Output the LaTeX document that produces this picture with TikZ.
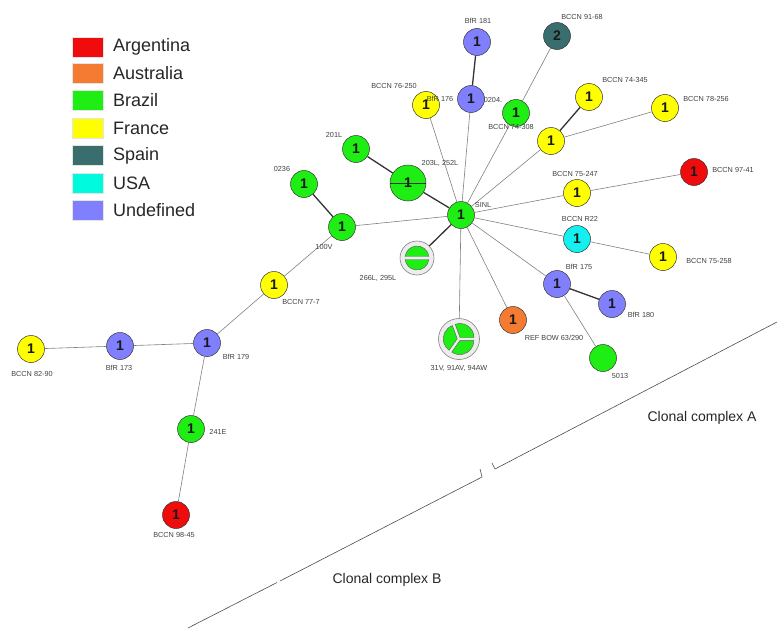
\documentclass[tikz,border=0pt]{standalone}
\usepackage{fontspec}
\setmainfont{Liberation Sans}
\definecolor{cred}{RGB}{240,12,12}
\definecolor{corange}{RGB}{245,122,50}
\definecolor{cgreen}{RGB}{30,238,20}
\definecolor{cyellow}{RGB}{255,255,0}
\definecolor{cspain}{RGB}{58,110,110}
\definecolor{cusa}{RGB}{0,250,222}
\definecolor{cusanode}{RGB}{20,240,240}
\definecolor{cundef}{RGB}{128,128,255}
\begin{document}
\begin{tikzpicture}[x=1pt,y=-1pt,
 st/.style={circle,draw=black!80,line width=0.5pt,minimum size=27pt,inner sep=0pt,font=\bfseries\fontsize{14}{14}\selectfont,text=black!90},
 lab/.style={font=\fontsize{7.3}{8}\selectfont,text=black!75,inner sep=0pt},
 thinln/.style={draw=black!50,line width=0.6pt},
 thickln/.style={draw=black!80,line width=1.3pt},
 leg/.style={minimum width=31pt,minimum height=20pt,inner sep=0pt,draw=black!10,line width=0.3pt},
 legt/.style={font=\fontsize{18}{18}\selectfont,anchor=west,inner sep=0pt,text=black!85},
 cc/.style={font=\fontsize{14}{14}\selectfont,inner sep=0pt,text=black!85},
 ccln/.style={draw=black!70,line width=0.6pt},
 pieout/.style={circle,draw=black!50,fill=black!7,line width=0.6pt,inner sep=0pt},
 piece/.style={fill=cgreen,draw=black!65,line width=0.4pt},
]
\useasboundingbox (0,0) rectangle (777,629);

% legend
\node[leg,fill=cred] (lr) at (88,47) {};
\node[legt] (lrt) at (113,47) {Argentina};
\node[leg,fill=corange] (lo) at (88,73.5) {};
\node[legt] (lot) at (113,73.5) {Australia};
\node[leg,fill=cgreen] (lg) at (88,100.5) {};
\node[legt] (lgt) at (113,100.5) {Brazil};
\node[leg,fill=cyellow] (ly) at (88,128) {};
\node[legt] (lyt) at (113,128) {France};
\node[leg,fill=cspain] (ls) at (88,155.5) {};
\node[legt] (lst) at (113,155.5) {Spain};
\node[leg,fill=cusa] (lu) at (88,183) {};
\node[legt] (lut) at (113,183) {USA};
\node[leg,fill=cundef] (ln) at (88,210) {};
\node[legt] (lnt) at (113,210) {Undefined};

% nodes
\node[st,fill=cgreen] (sinl) at (461,215) {1};
\node[st,fill=cundef] (b181) at (477,42) {1};
\node[st,fill=cspain] (sp) at (557,36) {2};
\node[st,fill=cundef] (b176) at (471,99) {1};
\node[st,fill=cyellow] (y250) at (426,105) {1};
\node[st,fill=cgreen] (g204) at (516,113) {1};
\node[st,fill=cyellow] (yhub) at (551,141) {1};
\node[st,fill=cyellow] (y345) at (589,97) {1};
\node[st,fill=cyellow] (y256) at (665,108) {1};
\node[st,fill=cgreen] (g201) at (356,149) {1};
\node[circle,draw=black!80,line width=0.5pt,fill=cgreen,minimum size=36pt,inner sep=0pt] (g203) at (408,183) {};
\node[st,fill=cgreen] (g236) at (304,184) {1};
\node[st,fill=cgreen] (g100) at (342,227) {1};
\node[st,fill=cyellow] (y777) at (274,285) {1};
\node[st,fill=cundef] (b179) at (207,343) {1};
\node[st,fill=cundef] (b173) at (120,346) {1};
\node[st,fill=cyellow] (y8290) at (31,349) {1};
\node[st,fill=cgreen] (g241) at (191,429) {1};
\node[st,fill=cred] (r9845) at (176,515) {1};
\node[st,fill=cyellow] (y247) at (577,193) {1};
\node[st,fill=cred] (r9741) at (694,172) {1};
\node[st,fill=cusanode] (ur22) at (577,239) {1};
\node[st,fill=cyellow] (y258) at (663,257) {1};
\node[st,fill=cundef] (b175) at (557,284) {1};
\node[st,fill=cundef] (b180) at (612,304) {1};
\node[st,fill=cgreen] (g5013) at (603,358) {};
\node[st,fill=corange] (oref) at (513,320) {1};
\node[pieout,minimum size=34pt] (p266) at (417,258) {};
\node[pieout,minimum size=41pt] (p31) at (459,339) {};

% big node 203L inner line and number
\draw[black!80,line width=0.6pt] (g203.west) -- (g203.east);
\node[font=\bfseries\fontsize{14}{14}\selectfont,text=black!90,inner sep=0pt] (n203) at (408,183) {1};

% pie 266L (two halves)
\begin{scope}[shift={(417,258)},y=1pt]
 \filldraw[piece] (7.2:12) arc[start angle=7.2,end angle=172.8,radius=12] -- cycle;
 \filldraw[piece] (-7.2:12) arc[start angle=-7.2,end angle=-172.8,radius=12] -- cycle;
\end{scope}
% pie 31V (three sectors)
\begin{scope}[shift={(459,339)},y=1pt]
 \filldraw[piece,shift={(55:1.8)}] (0,0) -- (0:14) arc[start angle=0,end angle=110,radius=14] -- cycle;
 \filldraw[piece,shift={(172:1.8)}] (0,0) -- (110:14) arc[start angle=110,end angle=235,radius=14] -- cycle;
 \filldraw[piece,shift={(297:1.8)}] (0,0) -- (235:14) arc[start angle=235,end angle=360,radius=14] -- cycle;
\end{scope}

% edges
\draw[thickln] (b181) -- (b176);
\draw[thinln] (sp) -- (g204);
\draw[thinln] (sinl) -- (b176);
\draw[thinln] (sinl) -- (y250);
\draw[thinln] (sinl) -- (g204);
\draw[thinln] (sinl) -- (yhub);
\draw[thickln] (yhub) -- (y345);
\draw[thinln] (yhub) -- (y256);
\draw[thickln] (g201) -- (g203);
\draw[thickln] (g203) -- (sinl);
\draw[thickln] (g236) -- (g100);
\draw[thinln] (sinl) -- (g100);
\draw[thickln] (sinl) -- (p266);
\draw[thinln] (sinl) -- (p31);
\draw[thinln] (sinl) -- (oref);
\draw[thinln] (sinl) -- (b175);
\draw[thinln] (sinl) -- (ur22);
\draw[thinln] (sinl) -- (y247);
\draw[thinln] (y247) -- (r9741);
\draw[thinln] (ur22) -- (y258);
\draw[thickln] (b175) -- (b180);
\draw[thinln] (b175) -- (g5013);
\draw[thinln] (g100) -- (y777);
\draw[thinln] (y777) -- (b179);
\draw[thinln] (b179) -- (b173);
\draw[thinln] (b173) -- (y8290);
\draw[thinln] (b179) -- (g241);
\draw[thinln] (g241) -- (r9845);

% labels
\node[lab] (t181) at (478,21) {BfR 181};
\node[lab] (t9168) at (582,17) {BCCN 91-68};
\node[lab] (t250) at (394,86) {BCCN 76-250};
\node[lab] (t176) at (440,99) {BfR 176};
\node[lab] (t204) at (493,100) {0204.};
\node[lab] (t308) at (511,127) {BCCN 74-308};
\node[lab] (t345) at (625,80) {BCCN 74-345};
\node[lab] (t256) at (706,99) {BCCN 78-256};
\node[lab] (t201) at (334,135) {201L};
\node[lab] (t236) at (282,169) {0236};
\node[lab] (t203) at (440,163) {203L, 252L};
\node[lab] (tsinl) at (483,205) {SINL};
\node[lab] (t100) at (324,247) {100V};
\node[lab] (t777) at (301,302) {BCCN 77-7};
\node[lab] (t266) at (378,278) {266L, 295L};
\node[lab] (t247) at (575,174) {BCCN 75-247};
\node[lab] (t9741) at (733,170) {BCCN 97-41};
\node[lab] (tr22) at (580,219) {BCCN R22};
\node[lab] (t258) at (709,261) {BCCN 75-258};
\node[lab] (t175) at (579,267) {BfR 175};
\node[lab] (t180) at (641,315) {BfR 180};
\node[lab] (tref) at (554,338) {REF BOW 63/290};
\node[lab] (t5013) at (620,376) {5013};
\node[lab] (t31) at (459,368) {31V, 91AV, 94AW};
\node[lab] (t179) at (236,357) {BfR 179};
\node[lab] (t173) at (119,368) {BfR 173};
\node[lab] (t8290) at (32,374) {BCCN 82-90};
\node[lab] (t241) at (218,432) {241E};
\node[lab] (t9845) at (174,535) {BCCN 98-45};

% clonal complexes
\coordinate (a0) at (492,463);
\coordinate (a1) at (495,469);
\coordinate (a2) at (777,322);
\draw[ccln] (a0) -- (a1) -- (a2);
\coordinate (b0) at (188,628);
\coordinate (b1) at (277,582.5);
\coordinate (b2) at (280,581);
\coordinate (b3) at (482,477);
\coordinate (b4) at (480,469);
\draw[ccln] (b0) -- (b1);
\draw[ccln] (b2) -- (b3) -- (b4);
\node[cc] (cca) at (702,418) {Clonal complex A};
\node[cc] (ccb) at (387,580) {Clonal complex B};
\end{tikzpicture}
\end{document}
